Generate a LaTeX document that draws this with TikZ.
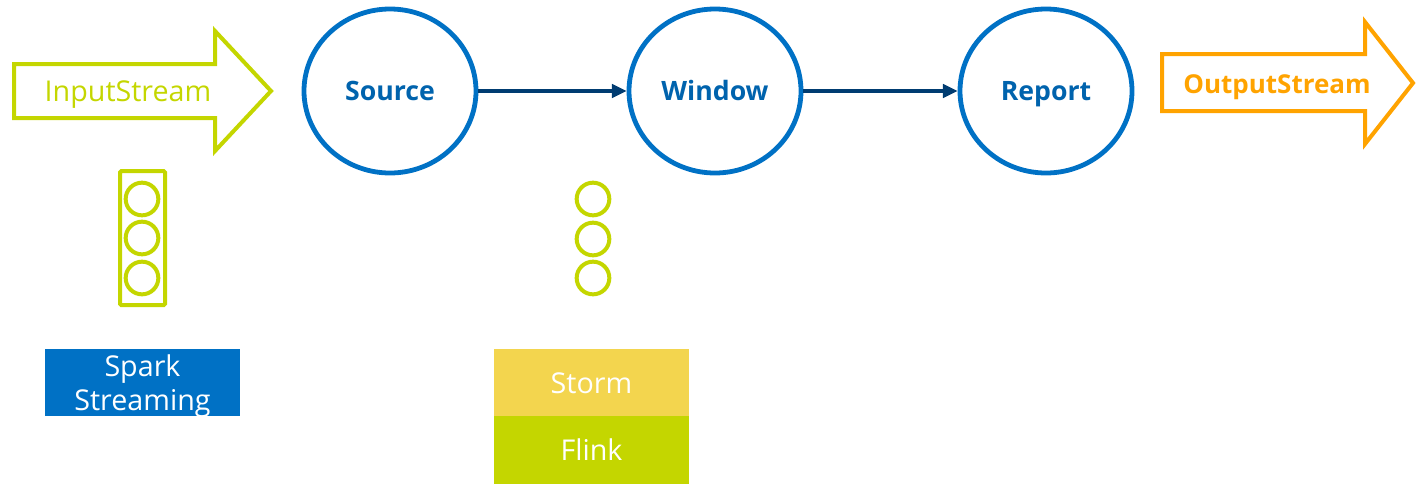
\documentclass[tikz,border=0pt]{standalone}
\usepackage{fontspec}
\setmainfont{Open Sans}
\usetikzlibrary{arrows.meta,shapes.geometric}
\definecolor{lime}{HTML}{C4D600}
\definecolor{ablue}{HTML}{0071C5}
\definecolor{tblue}{HTML}{0063AD}
\definecolor{dblue}{HTML}{003C71}
\definecolor{orng}{HTML}{FFA300}
\definecolor{yel}{HTML}{F3D54E}
\tikzset{
  proc/.style={draw=ablue, line width=3.6pt, ellipse, minimum width=129pt, minimum height=123pt, inner sep=0pt,
    text=tblue, font=\fontsize{20}{24}\selectfont\bfseries, text height=14.3pt, text depth=0pt},
  flow/.style={draw=dblue, line width=2.4pt, -{Triangle[length=11pt,width=10pt]}},
  dot/.style={draw=lime, line width=3pt, circle, minimum size=24.5pt, inner sep=0pt},
  fw/.style={fill=#1, text=white, minimum width=146pt, minimum height=50.5pt, inner sep=0pt, align=center,
    font=\fontsize{21.5}{25.5}\selectfont},
  lbl/.style={text height=15pt, text depth=0pt, inner sep=0pt},
}
\begin{document}
\begin{tikzpicture}[x=0.75pt,y=-0.75pt]
\useasboundingbox (0,0) rectangle (1417,483);
% input arrow
\draw[lime, line width=3pt, line join=miter] (14,64) -- (215,64) -- (215,31) -- (271,91) -- (215,151) -- (215,118) -- (14,118) -- cycle;
\node[lbl, text=lime, font=\fontsize{21.5}{24}\selectfont] (in) at (128,91) {InputStream};
% output arrow
\draw[orng, line width=3pt, line join=miter] (1162,54) -- (1365,54) -- (1365,22) -- (1413,83) -- (1365,144) -- (1365,111) -- (1162,111) -- cycle;
\node[lbl, text=orng, font=\fontsize{19.5}{22}\selectfont\bfseries] (out) at (1277,83) {OutputStream};
% process circles
\node[proc] (src) at (390,91) {Source};
\node[proc] (win) at (715,91) {Window};
\node[proc] (rep) at (1046,91) {Report};
\draw[flow] (src) -- (win);
\draw[flow] (win) -- (rep);
% traffic-light icon
\draw[lime, line width=3pt, rounded corners=1pt] (120,171) rectangle (165,305);
\node[dot] (a1) at (142,199) {};
\node[dot] (a2) at (142,238) {};
\node[dot] (a3) at (142,278) {};
% window dots
\node[dot] (b1) at (593,199) {};
\node[dot] (b2) at (593,239) {};
\node[dot] (b3) at (593,278) {};
% frameworks
\node[fw=ablue] (spark) at (142.5,382.5) {};
\node[fw=ablue, fill=none, minimum height=0pt] (sparkt) at (142.5,386) {Spark\\Streaming};
\node[fw=yel] (storm) at (591.5,383) {Storm};
\node[fw=lime] (flink) at (591.5,450) {Flink};
\end{tikzpicture}
\end{document}
